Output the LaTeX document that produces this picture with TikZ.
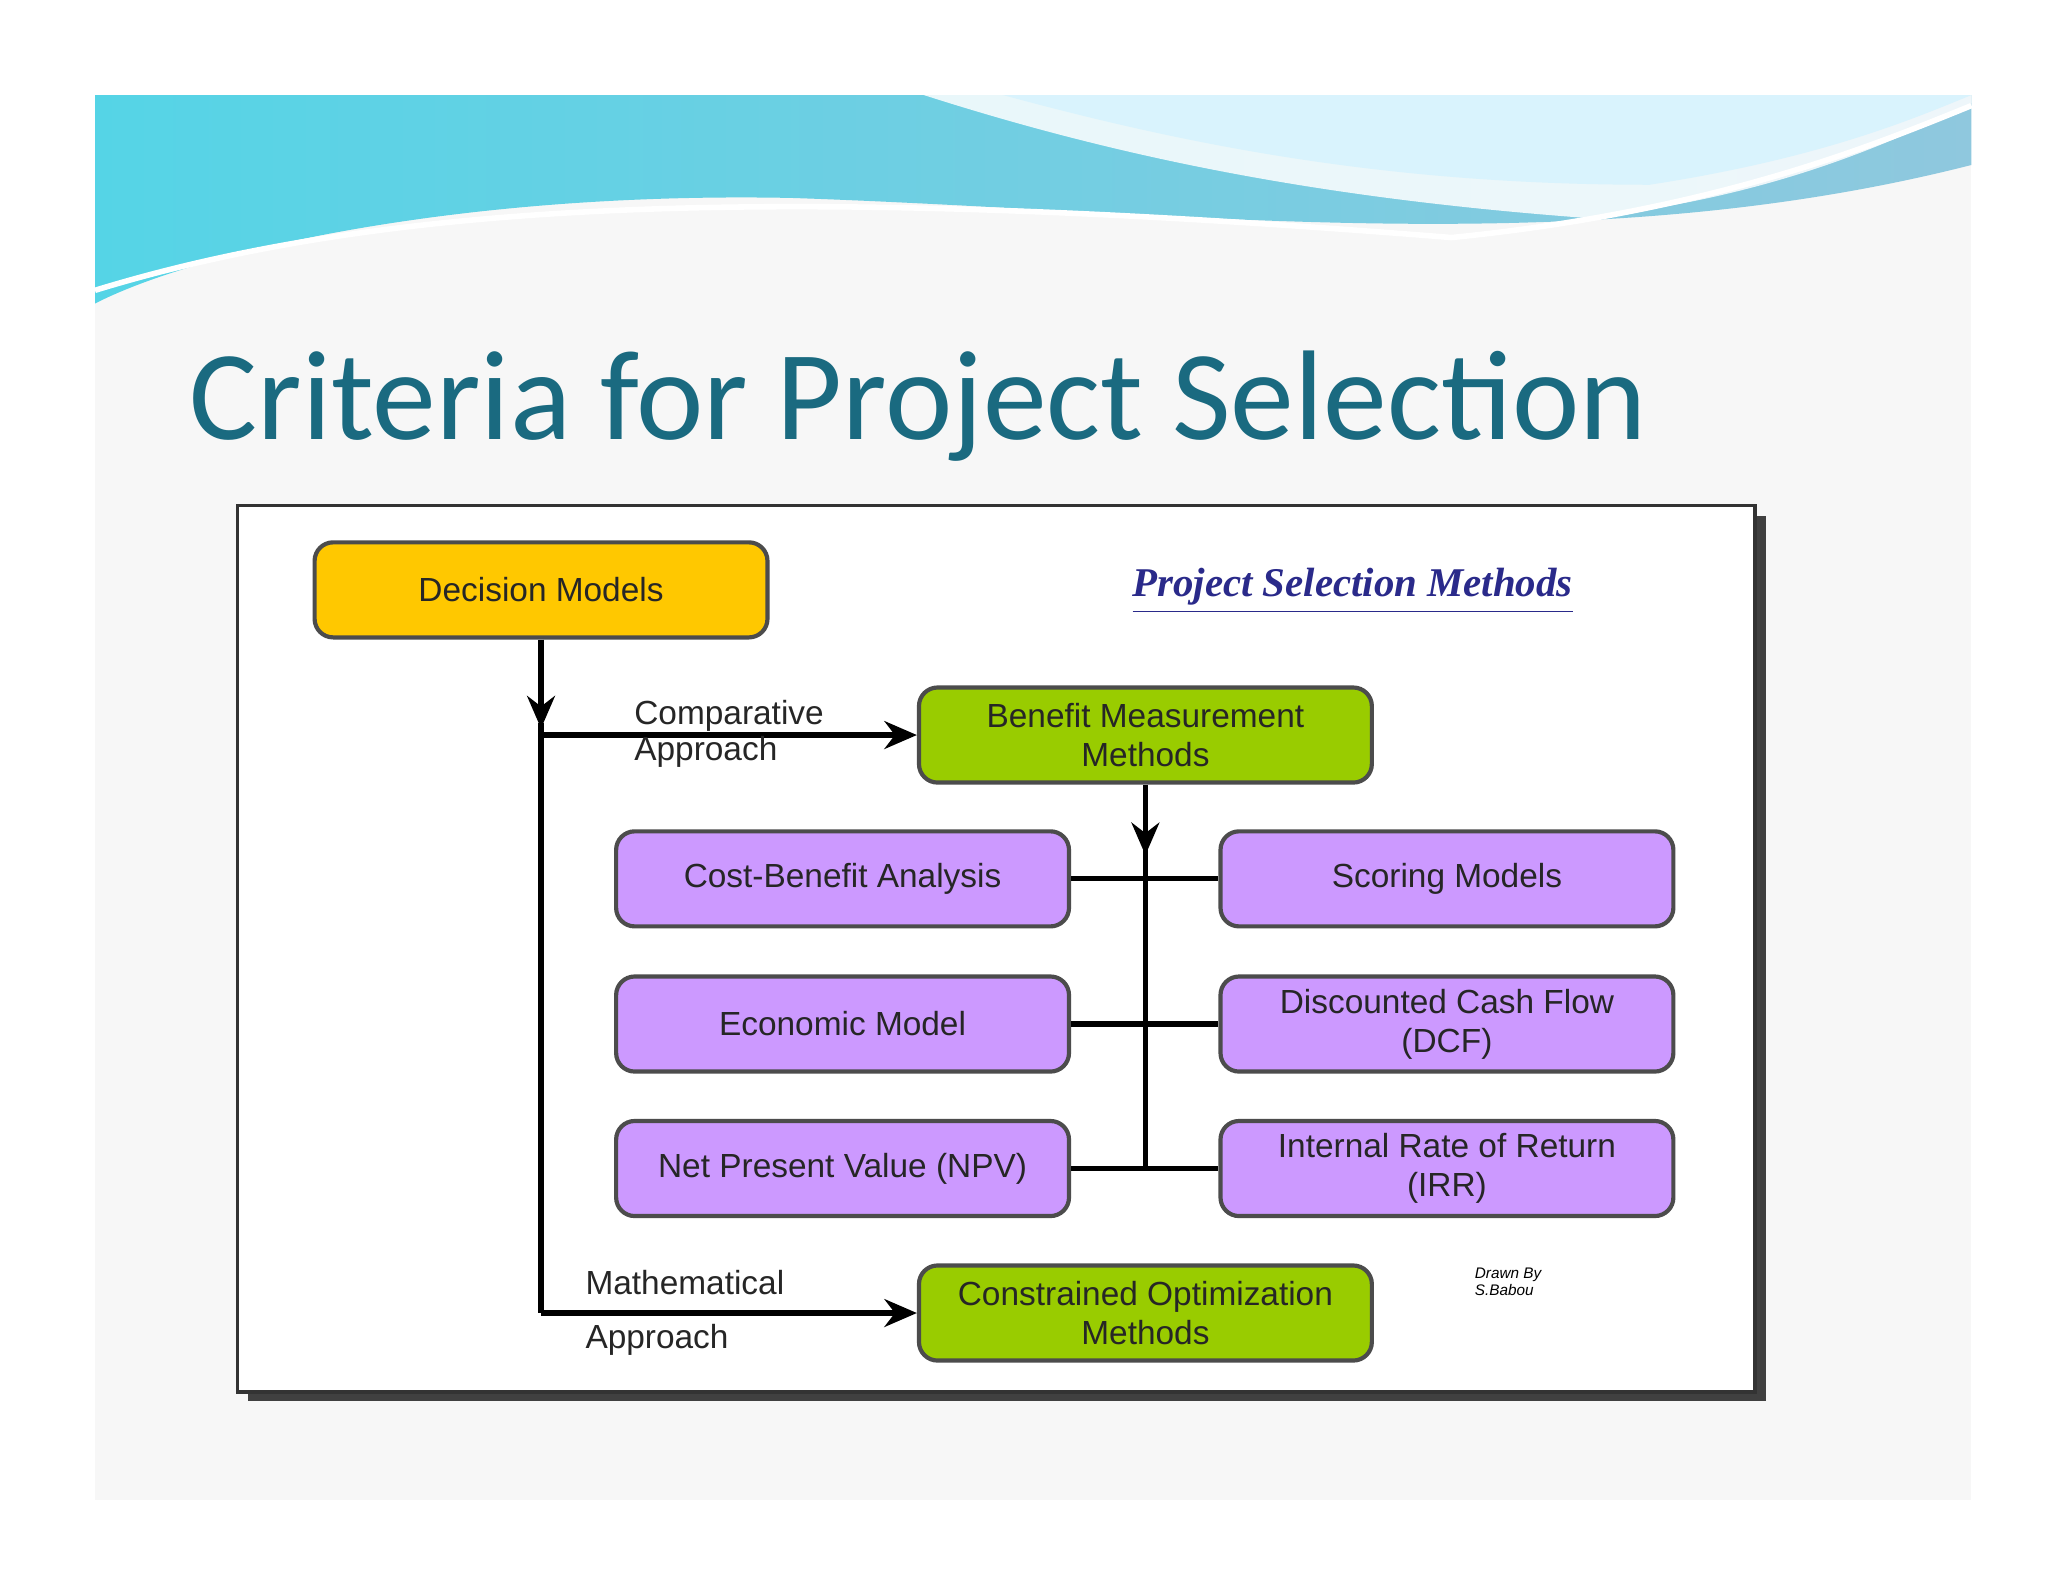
\documentclass[tikz,border=0pt]{standalone}
\usepackage{fontspec}
\setmainfont{Liberation Sans}
\newfontfamily\titlefont{Carlito}
\newfontfamily\serifit{Liberation Serif}
\usetikzlibrary{arrows.meta}
\definecolor{ttl}{HTML}{1A6A80}
\definecolor{yel}{HTML}{FFC800}
\definecolor{grn}{HTML}{99CC00}
\definecolor{pur}{HTML}{CC99FF}
\definecolor{navy}{HTML}{2A2A8A}
\definecolor{wl}{HTML}{55D4E6}
\definecolor{wr}{HTML}{8FC8DE}
\tikzset{
 box/.style={draw=black!70,line width=0.9pt,rounded corners=4pt,minimum width=3.43cm,minimum height=0.72cm,align=center,inner sep=1pt,font=\fontsize{7.2pt}{8.4pt}\selectfont,text=black!85},
 conn/.style={line width=1.1pt},
 arr/.style={conn,-{Stealth[length=7pt,width=6pt]}},
 lbl/.style={font=\fontsize{7.2pt}{8.4pt}\selectfont,anchor=base west,text=black!85,inner sep=0}
}
\begin{document}
\begin{tikzpicture}[x=0.01cm,y=-0.01cm]
\useasboundingbox (0,0) rectangle (1552,1199);
\fill[white] (0,0) rectangle (1552,1199);
\fill[black!3] (72,72) rectangle (1494,1137);
% header wave
\shade[left color=wl,right color=wr]
 (72,72) -- (1494,72) -- (1494,125) .. controls (1200,200) and (900,160) .. (600,150) .. controls (350,145) and (150,190) .. (72,230) -- cycle;
\fill[white,opacity=0.85] (700,72) .. controls (850,120) and (1000,150) .. (1200,165) .. controls (1350,150) and (1450,100) .. (1494,78) -- (1494,72) -- cycle;
\fill[cyan!15!white] (760,72) .. controls (900,110) and (1050,140) .. (1250,140) .. controls (1380,120) and (1450,90) .. (1494,72) -- cycle;
\draw[white,line width=1.2pt] (72,220) .. controls (300,150) and (600,140) .. (1100,180) .. controls (1300,160) and (1420,110) .. (1494,80);
% title
\node[anchor=base west,inner sep=0,text=ttl,font=\titlefont\fontsize{27.5pt}{30pt}\selectfont] (title) at (143,333) {Criteria for Project Selection};
% frame
\fill[black!75] (188,391) rectangle (1338,1062);
\draw[black!80,fill=white,line width=0.8pt] (180,383) rectangle (1330,1055);
\node[font=\serifit\bfseries\itshape\fontsize{8.8pt}{10pt}\selectfont,text=navy,inner sep=1pt] (ptitle) at (1025,448) {\underline{Project Selection Methods}};
\node[box,fill=yel] (dm) at (410,447) {Decision Models};
\node[box,fill=grn] (bmm) at (868,557) {Benefit Measurement\\Methods};
\node[box,fill=pur] (cba) at (638.5,666) {Cost-Benefit Analysis};
\node[box,fill=pur] (sm) at (1096.5,666) {Scoring Models};
\node[box,fill=pur] (em) at (638.5,776) {Economic Model};
\node[box,fill=pur] (dcf) at (1096.5,776) {Discounted Cash Flow\\(DCF)};
\node[box,fill=pur] (npv) at (638.5,885.5) {Net Present Value (NPV)};
\node[box,fill=pur] (irr) at (1096.5,885.5) {Internal Rate of Return\\(IRR)};
\node[box,fill=grn] (com) at (868,995) {Constrained Optimization\\Methods};
% connectors
\coordinate (j1) at (410,557);
\coordinate (j2) at (410,995);
\coordinate (k3) at (868,885.5);
\draw[arr] (dm.south) -- (410,552);
\draw[conn] (410,548) -- (j2);
\draw[arr] (j1) -- (bmm.west);
\draw[arr] (j2) -- (com.west);
\draw[arr] (bmm.south) -- (868,648);
\draw[conn] (868,640) -- (k3);
\draw[conn] (cba.east) -- (sm.west);
\draw[conn] (em.east) -- (dcf.west);
\draw[conn] (npv.east) -- (irr.west);
\node[lbl] (l1) at (480,549) {Comparative};
\node[lbl] (l2) at (480,576) {Approach};
\node[lbl] (l3) at (443,981) {Mathematical};
\node[lbl] (l4) at (443,1022) {Approach};
\node[font=\itshape\fontsize{3.3pt}{3.8pt}\selectfont,align=left,anchor=north west,inner sep=0] (db) at (1117,960) {Drawn By\\S.Babou};
\end{tikzpicture}
\end{document}
